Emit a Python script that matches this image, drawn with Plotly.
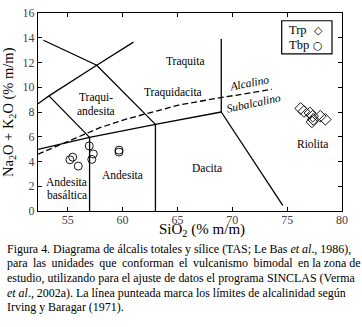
import plotly.graph_objects as go

# ---- sample data (SiO2, Na2O+K2O) ----
trp_sio2 = [76.23, 76.53, 77.08, 77.33, 77.38, 77.26, 78.02, 78.48]
trp_alk = [8.29, 8.05, 7.92, 7.66, 7.40, 7.20, 7.66, 7.40]
tbp_sio2 = [56.97, 57.34, 57.20, 55.46, 55.21, 55.97, 59.68, 59.68]
tbp_alk = [5.26, 4.61, 4.17, 4.35, 4.14, 3.63, 4.92, 4.76]

# ---- TAS field boundaries (Le Bas et al., 1986) ----
b_lower_x = [52.3, 57.0, 63.0, 69.0]
b_lower_y = [4.98, 5.95, 7.0, 8.0]
b_and57_x = [57.0, 57.0]
b_and57_y = [0.0, 5.95]
b_and63_x = [63.0, 63.0]
b_and63_y = [0.0, 7.0]
b_dac_x = [69.0, 74.6]
b_dac_y = [8.0, 0.45]
b_trq_x = [69.0, 69.0]
b_trq_y = [8.0, 13.9]
b_ta_x = [53.3, 57.0]
b_ta_y = [9.3, 5.95]
b_up1_x = [52.3, 53.3, 57.65, 61.0]
b_up1_y = [8.66, 9.3, 11.78, 13.65]
b_up2_x = [52.8, 57.65, 63.0]
b_up2_y = [13.8, 11.78, 7.0]

# Irvine & Baragar (1971) alkaline / subalkaline divide
ib_x = [52.3, 57.0, 58.0, 60.4, 62.0, 65.2, 68.7, 73.6]
ib_y = [4.59, 6.42, 6.75, 7.44, 7.84, 8.58, 9.12, 9.83]

# field labels (one entry per text line)
field_names = ["Traquita", "Traquidacita", "Traqui-", "andesita", "Dacita",
               "Riolita", "Andesita", "Andesita", "basáltica"]
field_x = [65.7, 64.6, 57.6, 57.6, 67.7, 77.3, 60.0, 54.9, 54.9]
field_y = [12.05, 9.55, 9.17, 8.1, 3.5, 5.45, 2.9, 2.33, 1.33]

x_ticks = [55, 60, 65, 70, 75, 80]
y_ticks = [0, 2, 4, 6, 8, 10, 12, 14, 16]

caption = [
    "Figura 4. Diagrama de álcalis totales y sílice (TAS; Le Bas <i>et al</i>., 1986),",
    "para las unidades que conforman el vulcanismo bimodal en la zona de",
    "estudio, utilizando para el ajuste de datos el programa SINCLAS (Verma",
    "<i>et al</i>., 2002a). La línea punteada marca los límites de alcalinidad según",
    "Irving y Baragar (1971).",
]

SERIF = "Liberation Serif, Times New Roman, serif"
L, R, T, B = 38, 20, 6, 116
W, H = 362, 327
PW, PH = W - L - R, H - T - B


def px_x(px):
    return (px - L) / PW


def px_y(py):
    return (H - B - py) / PH


fig = go.Figure()

line_style = dict(color="black", width=1.3)
for bx, by in [(b_lower_x, b_lower_y), (b_and57_x, b_and57_y), (b_and63_x, b_and63_y),
               (b_dac_x, b_dac_y), (b_trq_x, b_trq_y), (b_ta_x, b_ta_y),
               (b_up1_x, b_up1_y), (b_up2_x, b_up2_y)]:
    fig.add_trace(go.Scatter(x=bx, y=by, mode="lines", line=line_style,
                             showlegend=False, hoverinfo="skip"))

fig.add_trace(go.Scatter(x=ib_x, y=ib_y, mode="lines",
                         line=dict(color="black", width=1.3, dash="6px,3px"),
                         showlegend=False, hoverinfo="skip"))

fig.add_trace(go.Scatter(x=trp_sio2, y=trp_alk, mode="markers", name="Trp",
                         marker=dict(symbol="diamond-open", size=9, color="black",
                                     line=dict(width=0.9, color="black")),
                         showlegend=False))
fig.add_trace(go.Scatter(x=tbp_sio2, y=tbp_alk, mode="markers", name="Tbp",
                         marker=dict(symbol="circle-open", size=8, color="black",
                                     line=dict(width=0.9, color="black")),
                         showlegend=False))

ann = []
for t, x, y in zip(field_names, field_x, field_y):
    ann.append(dict(x=x, y=y, xref="x", yref="y", text=t, showarrow=False,
                    xanchor="center", yanchor="middle",
                    font=dict(family=SERIF, size=11.5, color="black")))

ann.append(dict(x=71.5, y=10.38, xref="x", yref="y", text="<i>Alcalino</i>",
                showarrow=False, textangle=-11, xanchor="center", yanchor="middle",
                font=dict(family=SERIF, size=11.5, color="black")))
ann.append(dict(x=71.95, y=8.75, xref="x", yref="y", text="<i>Subalcalino</i>",
                showarrow=False, textangle=-12, xanchor="center", yanchor="middle",
                font=dict(family=SERIF, size=11.5, color="black")))

# legend (text left, symbol right as in the original)
for txt, sym, py in [("Trp", "◇", 24), ("Tbp", "○", 39)]:
    ann.append(dict(x=px_x(287), y=px_y(py), xref="paper", yref="paper", text=txt,
                    showarrow=False, xanchor="left", yanchor="middle",
                    font=dict(family=SERIF, size=12.5, color="black")))
    ann.append(dict(x=px_x(318), y=px_y(py + 0.5), xref="paper", yref="paper", text=sym,
                    showarrow=False, xanchor="center", yanchor="middle",
                    font=dict(family="DejaVu Sans", size=11, color="black")))

# axis titles
ann.append(dict(x=px_x(9), y=0.5, xref="paper", yref="paper",
                text="Na<sub>2</sub>O + K<sub>2</sub>O (% m/m)", textangle=-90,
                xanchor="center", yanchor="middle",
                showarrow=False, font=dict(family=SERIF, size=14.5, color="black")))
ann.append(dict(x=px_x(201.5), y=px_y(231), xref="paper", yref="paper",
                text="SiO<sub>2</sub> (% m/m)", showarrow=False,
                xanchor="center", yanchor="middle",
                font=dict(family=SERIF, size=15, color="black")))

for i, line in enumerate(caption):
    if i == 1:
        line = line.replace(" ", "\u2009 ", 8)
    ann.append(dict(x=px_x(5), y=px_y(250 + i * 15.2), xref="paper", yref="paper",
                    xanchor="left", yanchor="middle", text=line, showarrow=False,
                    font=dict(family=SERIF, size=11.95, color="black")))

fig.update_layout(
    width=W, height=H,
    margin=dict(l=L, r=R, t=T, b=B),
    paper_bgcolor="white", plot_bgcolor="white",
    showlegend=False,
    xaxis=dict(range=[52.3, 80], tickvals=x_ticks, ticks="inside", ticklen=4,
               tickcolor="black", showline=True, linecolor="black", linewidth=1.2,
               mirror="ticks", showgrid=False, zeroline=False, ticklabelstandoff=-3,
               tickfont=dict(family=SERIF, size=12, color="#444")),
    yaxis=dict(range=[0, 16], tickvals=y_ticks, ticks="inside", ticklen=4,
               tickcolor="black", showline=True, linecolor="black", linewidth=1.2,
               mirror="ticks", showgrid=False, zeroline=False,
               ticklabeloverflow="allow",
               tickfont=dict(family=SERIF, size=12, color="#444")),
    annotations=ann,
    shapes=[dict(type="rect", xref="paper", yref="paper",
                 x0=px_x(281.7), x1=px_x(332), y0=px_y(48.3), y1=px_y(14),
                 line=dict(color="black", width=1.2), fillcolor="white", layer="below")],
)

fig.write_html("out.html", config={"displayModeBar": False},
               post_script="document.body.style.margin='0';document.body.style.padding='0';")
